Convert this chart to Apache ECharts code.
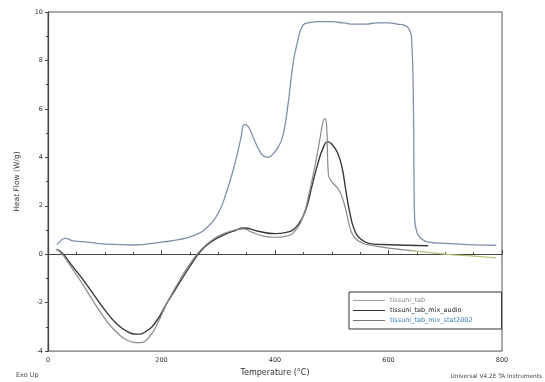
<!DOCTYPE html>
<html>
<head>
<meta charset="utf-8">
<script src="https://cdn.jsdelivr.net/npm/echarts@6/dist/echarts.min.js"></script>
<style>html,body{margin:0;padding:0;background:#fff;}#c{width:545px;height:382px;}</style>
</head>
<body>
<div id="c"></div>
<script>
// Temperature (°C) and heat flow (W/g) values
const seriesNames = ['tissuni_tab', 'tissuni_tab_mix_audio', 'tissuni_tab_mix_stat2002'];
const xTicks = [0, 200, 400, 600, 800];
const yTicks = [-4, -2, 0, 2, 4, 6, 8, 10];

const tempA = [16, 22, 30, 45, 70, 100, 150, 200, 230, 260, 280, 300, 315, 330, 340, 346, 352, 362, 372, 380, 387, 395, 405, 414, 423, 432, 440, 448, 458, 480, 500, 520, 540, 560, 580, 600, 615, 628, 636, 641, 644, 645, 646, 650, 657, 670, 700, 740, 790];
const flowA = [0.4, 0.55, 0.65, 0.55, 0.5, 0.42, 0.38, 0.5, 0.6, 0.8, 1.1, 1.7, 2.6, 3.8, 4.8, 5.35, 5.3, 4.8, 4.3, 4.05, 4.0, 4.1, 4.4, 4.9, 6.2, 7.9, 8.8, 9.4, 9.55, 9.6, 9.6, 9.55, 9.5, 9.5, 9.55, 9.55, 9.5, 9.45, 9.3, 8.8, 6.0, 3.0, 1.5, 0.9, 0.65, 0.5, 0.45, 0.4, 0.37];

const tempB = [15, 25, 40, 60, 80, 100, 120, 140, 157, 172, 190, 210, 230, 250, 270, 290, 310, 330, 345, 370, 400, 420, 440, 455, 465, 475, 485, 493, 500, 510, 518, 525, 532, 540, 550, 565, 590, 630, 670];
const flowB = [0.2, 0.05, -0.4, -1.0, -1.65, -2.3, -2.85, -3.2, -3.3, -3.2, -2.8, -2.0, -1.25, -0.5, 0.15, 0.55, 0.8, 0.98, 1.08, 0.95, 0.85, 0.9, 1.2, 1.9, 2.8, 3.7, 4.4, 4.65, 4.55, 4.2, 3.6, 2.6, 1.7, 1.0, 0.65, 0.45, 0.4, 0.37, 0.35];

const tempC = [15, 25, 40, 60, 80, 100, 120, 140, 162, 177, 192, 210, 230, 250, 270, 290, 310, 330, 345, 360, 380, 400, 420, 435, 450, 460, 470, 478, 484, 488, 491, 494, 500, 514, 525, 532, 540, 555, 570, 600, 640, 700, 750, 790];
const flowC = [0.2, 0.0, -0.5, -1.2, -1.95, -2.65, -3.2, -3.55, -3.65, -3.45, -2.9, -2.0, -1.15, -0.4, 0.2, 0.6, 0.85, 1.0, 1.05, 0.9, 0.75, 0.7, 0.75, 0.95, 1.6, 2.5, 3.6, 4.6, 5.4, 5.6, 5.3, 3.3, 3.0, 2.6, 1.8, 1.1, 0.7, 0.45, 0.37, 0.25, 0.15, 0.0, -0.08, -0.15];

const pairs = (t, v) => t.map((x, i) => [x, v[i]]);

const chart = echarts.init(document.getElementById('c'), null, {renderer: 'canvas'});
const axisCol = '#444';
const txt = '#333';
chart.setOption({
  animation: false,
  backgroundColor: '#fff',
  grid: {left: 48, right: 43, top: 12, bottom: 27, show: true, borderColor: '#555', borderWidth: 1},
  xAxis: {
    type: 'value', min: 0, max: 800, interval: 200,
    name: 'Temperature (°C)', nameLocation: 'middle', nameGap: 17,
    nameTextStyle: {fontSize: 8, color: txt, fontFamily: 'DejaVu Sans'},
    axisLine: {lineStyle: {color: axisCol, width: 1.2}},
    axisTick: {inside: true, length: 4, lineStyle: {color: axisCol}},
    minorTick: {show: true, splitNumber: 4, length: 2, lineStyle: {color: axisCol}},
    axisLabel: {fontSize: 6.5, color: txt, margin: 6, fontFamily: 'DejaVu Sans',
      formatter: v => xTicks.includes(v) ? String(v) : ''},
    splitLine: {show: false}
  },
  yAxis: {
    type: 'value', min: -4, max: 10, interval: 2,
    name: 'Heat Flow (W/g)', nameLocation: 'middle', nameGap: 27,
    nameTextStyle: {fontSize: 7.5, color: txt, fontFamily: 'DejaVu Sans'},
    axisLine: {show: true, lineStyle: {color: axisCol, width: 1.2}},
    axisTick: {show: true, length: 3, lineStyle: {color: axisCol}},
    minorTick: {show: true, splitNumber: 2, length: 2, lineStyle: {color: axisCol}},
    axisLabel: {fontSize: 6.5, color: txt, margin: 5, fontFamily: 'DejaVu Sans',
      formatter: v => yTicks.includes(v) ? String(v) : ''},
    splitLine: {show: false}
  },
  legend: {
    orient: 'vertical', left: 349, top: 292,
    backgroundColor: '#fff', borderColor: '#333', borderWidth: 1,
    padding: [5, 29, 5, 4], itemGap: 3, itemWidth: 32, itemHeight: 1,
    textStyle: {fontSize: 6.5, fontFamily: 'DejaVu Sans'},
    data: [
      {name: seriesNames[0], icon: 'rect', textStyle: {color: '#888'}},
      {name: seriesNames[1], icon: 'rect', textStyle: {color: '#222'}},
      {name: seriesNames[2], icon: 'rect', textStyle: {color: '#3a80c8'}}
    ]
  },
  graphic: [
    {type: 'text', left: 16, top: 372, style: {text: 'Exo Up', fontSize: 6.5, fill: '#444', fontFamily: 'DejaVu Sans'}},
    {type: 'text', right: 3, top: 373, style: {text: 'Universal V4.2E TA Instruments', fontSize: 5.8, fill: '#444', fontFamily: 'DejaVu Sans'}}
  ],
  series: [
    {name: seriesNames[0], type: 'line', data: pairs(tempA, flowA), symbol: 'none', smooth: 0.5,
      lineStyle: {color: '#7f8fae', width: 1.3}, itemStyle: {color: '#9aa2ae'}},
    {name: seriesNames[1], type: 'line', data: pairs(tempB, flowB), symbol: 'none', smooth: 0.5,
      lineStyle: {color: '#3a3a3a', width: 1.4}, itemStyle: {color: '#333'}},
    {name: seriesNames[2], type: 'line', data: pairs(tempC, flowC), symbol: 'none', smooth: 0.5,
      lineStyle: {width: 1.2, color: new echarts.graphic.LinearGradient(0, 0, 1, 0, [
        {offset: 0, color: '#8a8a88'}, {offset: 0.8, color: '#8a8a88'}, {offset: 0.81, color: '#b8c27a'}, {offset: 1, color: '#b8c27a'}])},
      itemStyle: {color: '#777'}}
  ]
});
</script>
</body>
</html>
